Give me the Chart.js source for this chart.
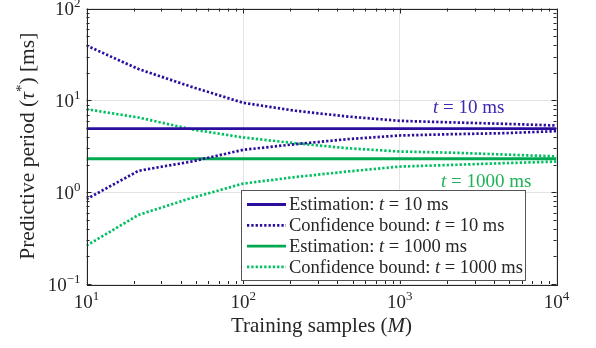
<!DOCTYPE html>
<html>
<head>
<meta charset="utf-8">
<script src="https://cdn.jsdelivr.net/npm/chart.js@4.4.0/dist/chart.umd.min.js"></script>
<style>
html, body { margin: 0; padding: 0; background: #fff; }
</style>
</head>
<body>
<canvas id="period" width="596" height="348"></canvas>
<script>
// training samples (x) and the four curves
const samples = [10, 21.5, 46.4, 100, 215, 464, 1000, 2154, 4642, 10000]
const est10 = [4.92, 4.92, 4.92, 4.92, 4.92, 4.92, 4.92, 4.92, 4.92, 4.92]
const upper10 = [39.5, 21.9, 14.1, 9.4, 7.7, 6.66, 5.98, 5.75, 5.55, 5.32]
const lower10 = [0.84, 1.71, 2.15, 2.89, 3.33, 3.78, 4.14, 4.28, 4.39, 4.62]
const est1000 = [2.31, 2.31, 2.31, 2.31, 2.31, 2.31, 2.31, 2.31, 2.31, 2.31]
const upper1000 = [8.0, 6.5, 4.85, 3.94, 3.41, 3.01, 2.77, 2.69, 2.57, 2.45]
const lower1000 = [0.262, 0.566, 0.86, 1.24, 1.46, 1.68, 1.90, 1.98, 2.07, 2.15]

// axis decades (tick labels are 10^exp)
const xExps = [1, 2, 3, 4]
const yExps = [-1, 0, 1, 2]

const xTitle = 'Training samples (M)'
const yTitle = 'Predictive period (τ*) [ms]'

const BLUE = '#2c0e9e'
const GREEN = '#00a84f'
const GREEN_DOT = '#00c062'
const FONT = "'Liberation Serif', 'DejaVu Serif', serif"
const AXIS = '#262626'

function pts(ys) {
    return samples.map((m, i) => ({x: m, y: ys[i]}))
}

const dotted = [2.3, 2]

const datasets = [
    {label: 'Estimation: t = 10 ms', data: pts(est10), borderColor: BLUE, borderWidth: 2.8, legend: true},
    {label: 'Confidence bound: t = 10 ms', data: pts(upper10), borderColor: BLUE, borderWidth: 2.7, borderDash: dotted, legend: true},
    {label: 'Confidence bound: t = 10 ms', data: pts(lower10), borderColor: BLUE, borderWidth: 2.7, borderDash: dotted},
    {label: 'Estimation: t = 1000 ms', data: pts(est1000), borderColor: GREEN, borderWidth: 2.8, legend: true},
    {label: 'Confidence bound: t = 1000 ms', data: pts(upper1000), borderColor: GREEN_DOT, borderWidth: 2.7, borderDash: dotted, legend: true},
    {label: 'Confidence bound: t = 1000 ms', data: pts(lower1000), borderColor: GREEN_DOT, borderWidth: 2.7, borderDash: dotted}
]

// text notes on the plot, placed in data coordinates
const notes = [
    {text: 't = 10 ms', x: 2750, y: 8.3, color: '#3f27b0'},
    {text: 't = 1000 ms', x: 3560, y: 1.28, color: '#20b259'}
]

// split a string so the math letters come out italic
function splitMath(str) {
    return str.split(/(\bt\b|\bM\b|τ)/).filter(s => s.length).map(s => ({
        text: s, italic: (s == 't' || s == 'M' || s == 'τ')
    }))
}

function drawParts(ctx, parts, x, y, size, align) {
    let total = 0
    for (const p of parts) {
        ctx.font = (p.italic ? 'italic ' : '') + (p.size || size) + 'px ' + FONT
        p.w = ctx.measureText(p.text).width
        total += p.w
    }
    let cx = x
    if (align == 'center') cx = x - total / 2
    if (align == 'right') cx = x - total
    ctx.textAlign = 'left'
    for (const p of parts) {
        ctx.font = (p.italic ? 'italic ' : '') + (p.size || size) + 'px ' + FONT
        ctx.fillText(p.text, cx, y + (p.dy || 0))
        cx += p.w
    }
}

function powerParts(e) {
    return [{text: '10'}, {text: e < 0 ? '\u2212' + (-e) : '' + e, size: 13, dy: -8}]
}

const decor = {
    id: 'decor',
    beforeDatasetsDraw(chart) {
        const ctx = chart.ctx
        const a = chart.chartArea
        const sx = chart.scales.x, sy = chart.scales.y
        ctx.save()
        // inner minor + major ticks on all four sides
        ctx.strokeStyle = AXIS
        ctx.lineWidth = 1
        ctx.beginPath()
        for (let i = 0; i < xExps.length; i++) {
            for (let k = 1; k <= 9; k++) {
                if (i == xExps.length - 1 && k > 1) break
                const v = k * Math.pow(10, xExps[i])
                const px = Math.round(sx.getPixelForValue(v)) + 0.5
                const len = k == 1 ? 5 : 3
                ctx.moveTo(px, a.bottom); ctx.lineTo(px, a.bottom - len)
                ctx.moveTo(px, a.top); ctx.lineTo(px, a.top + len)
            }
        }
        for (let i = 0; i < yExps.length; i++) {
            for (let k = 1; k <= 9; k++) {
                if (i == yExps.length - 1 && k > 1) break
                const v = k * Math.pow(10, yExps[i])
                const py = Math.round(sy.getPixelForValue(v)) + 0.5
                const len = k == 1 ? 5 : 3
                ctx.moveTo(a.left, py); ctx.lineTo(a.left + len, py)
                ctx.moveTo(a.right, py); ctx.lineTo(a.right - len, py)
            }
        }
        ctx.stroke()
        ctx.restore()
    },
    afterDatasetsDraw(chart) {
        const ctx = chart.ctx
        const a = chart.chartArea
        const sx = chart.scales.x, sy = chart.scales.y
        ctx.save()

        // notes
        ctx.textBaseline = 'middle'
        for (const n of notes) {
            ctx.fillStyle = n.color
            drawParts(ctx, splitMath(n.text), sx.getPixelForValue(n.x), sy.getPixelForValue(n.y), 19, 'center')
        }

        // axes box
        ctx.strokeStyle = AXIS
        ctx.lineWidth = 1
        ctx.strokeRect(Math.round(a.left) + 0.5, Math.round(a.top) + 0.5,
            Math.round(a.right - a.left), Math.round(a.bottom - a.top))

        // tick labels
        ctx.fillStyle = AXIS
        ctx.textBaseline = 'alphabetic'
        for (const e of xExps) {
            const px = sx.getPixelForValue(Math.pow(10, e))
            drawParts(ctx, powerParts(e), px, a.bottom + 24, 19, 'center')
        }
        for (const e of yExps) {
            const py = sy.getPixelForValue(Math.pow(10, e))
            drawParts(ctx, powerParts(e), a.left - 6, py + 6.5, 19, 'right')
        }

        // axis titles
        drawParts(ctx, splitMath(xTitle), (a.left + a.right) / 2, 332, 21, 'center')
        ctx.translate(34, (a.top + a.bottom) / 2)
        ctx.rotate(-Math.PI / 2)
        const yp = splitMath(yTitle)
        // put the star up as a superscript
        const out = []
        for (const p of yp) {
            if (p.text.startsWith('*')) {
                out.push({text: '*', size: 15, dy: -8})
                out.push({text: p.text.slice(1)})
            } else out.push(p)
        }
        drawParts(ctx, out, 0, 0, 21.5, 'center')
        ctx.restore()

        // legend box
        ctx.save()
        const L = {x: 241.5, y: 190.5, w: 284, h: 90}
        ctx.fillStyle = '#fff'
        ctx.fillRect(L.x, L.y, L.w, L.h)
        ctx.strokeStyle = '#555'
        ctx.lineWidth = 1
        ctx.strokeRect(L.x, L.y, L.w, L.h)
        const rows = chart.data.datasets.filter(d => d.legend)
        rows.forEach((d, i) => {
            const ry = 204.5 + i * 20.8
            ctx.strokeStyle = d.borderColor
            ctx.lineWidth = d.borderWidth
            ctx.setLineDash(d.borderDash || [])
            ctx.beginPath()
            ctx.moveTo(247, ry); ctx.lineTo(286, ry)
            ctx.stroke()
            ctx.setLineDash([])
            ctx.fillStyle = AXIS
            ctx.textBaseline = 'middle'
            drawParts(ctx, splitMath(d.label), 289, ry + 1, 18.5, 'left')
        })
        ctx.restore()
    }
}

const config = {
    type: 'line',
    data: {
        datasets: datasets.map(d => Object.assign({
            fill: false, pointRadius: 0, tension: 0, borderCapStyle: 'butt'
        }, d))
    },
    options: {
        responsive: false,
        animation: false,
        events: [],
        layout: {padding: {left: 86.5, right: 39.5, top: 8.5, bottom: 64}},
        plugins: {legend: {display: false}, tooltip: {enabled: false}},
        scales: {
            x: {
                type: 'logarithmic', min: 10, max: 10000,
                afterBuildTicks: s => { s.ticks = xExps.map(e => ({value: Math.pow(10, e)})) },
                ticks: {display: false},
                grid: {color: '#e3e3e3', lineWidth: 1, drawTicks: false},
                border: {display: false}
            },
            y: {
                type: 'logarithmic', min: 0.1, max: 100,
                afterBuildTicks: s => { s.ticks = yExps.map(e => ({value: Math.pow(10, e)})) },
                ticks: {display: false},
                grid: {color: '#e3e3e3', lineWidth: 1, drawTicks: false},
                border: {display: false}
            }
        }
    },
    plugins: [decor]
}

const periodChart = new Chart(document.getElementById('period'), config)
</script>
</body>
</html>
